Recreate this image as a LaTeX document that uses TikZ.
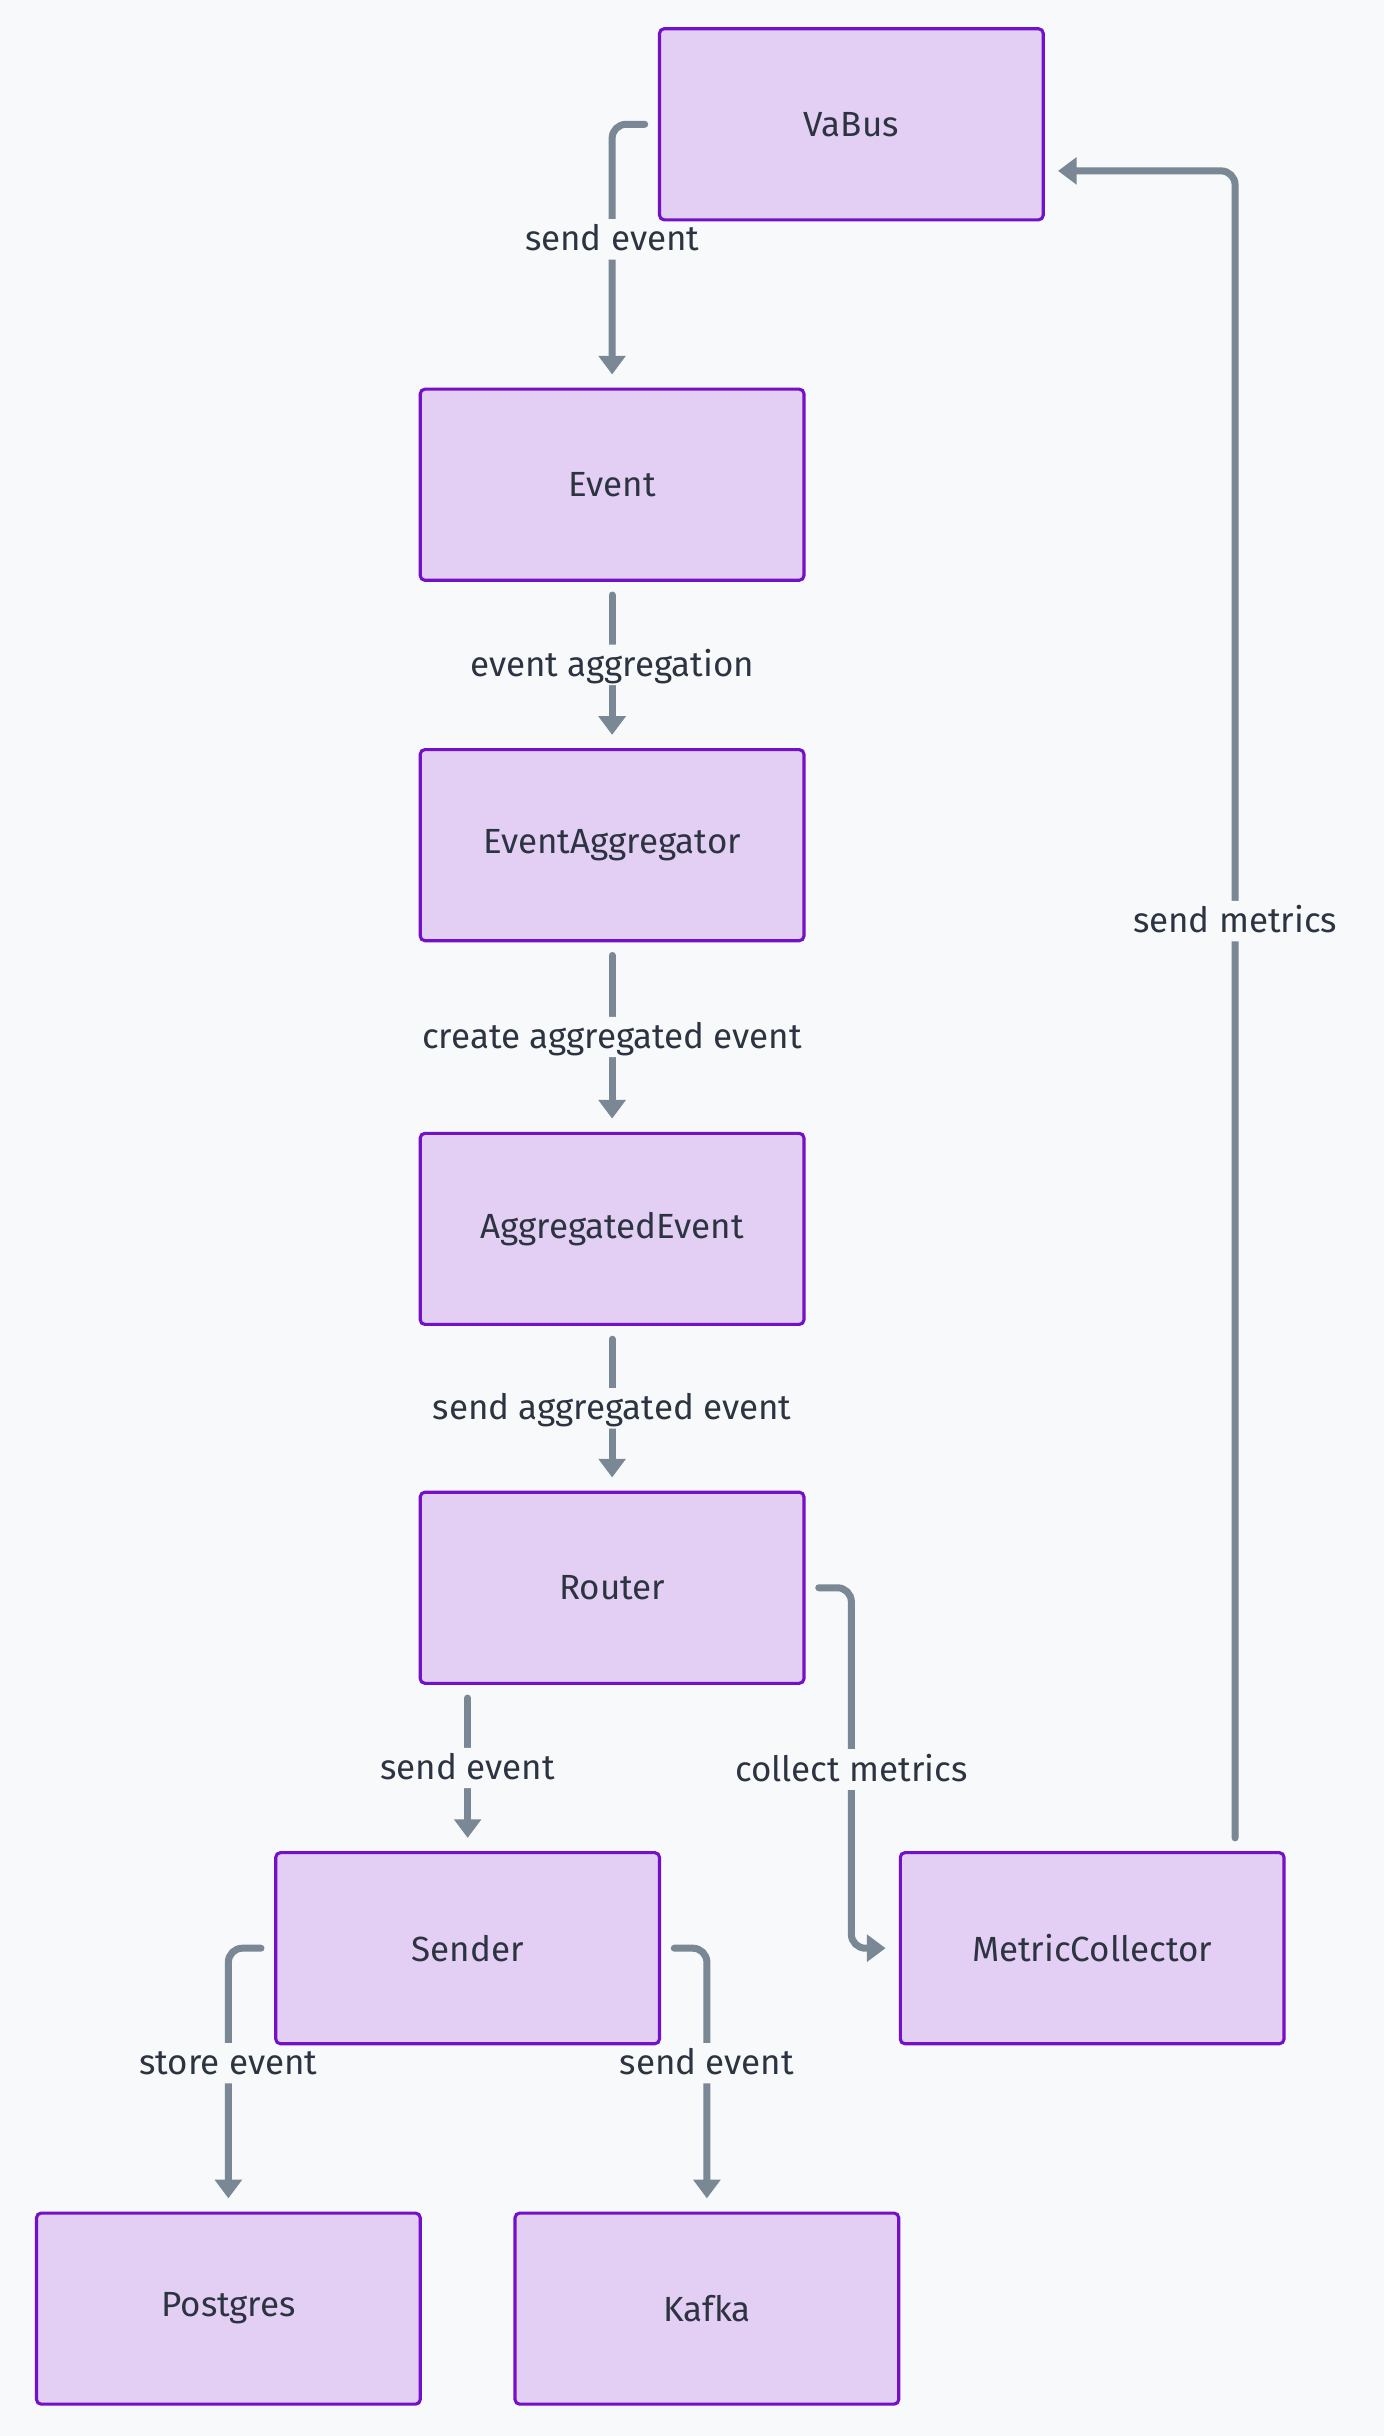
\documentclass[tikz,border=0pt]{standalone}
\usepackage{fontspec}
\setmainfont{Fira Sans}
\usepackage{tikz}
\usetikzlibrary{arrows.meta}
\definecolor{bgc}{HTML}{F8F9FA}
\definecolor{boxfill}{HTML}{E4CFF4}
\definecolor{boxline}{HTML}{7410C8}
\definecolor{linkc}{HTML}{7A8794}
\definecolor{txtc}{HTML}{2C3442}
\newcommand{\gapsize}{9.5pt}
\pgfdeclarelayer{links}
\pgfsetlayers{links,main}
\tikzset{
  box/.style={draw=boxline, fill=boxfill, line width=2pt, rounded corners=3pt,
    minimum width=247pt, minimum height=123pt, outer sep=\gapsize, text=txtc},
  lbl/.style={fill=bgc, text=txtc, inner xsep=5pt, inner ysep=2.5pt,
    text height=18pt, text depth=3pt},
  flow/.style={draw=linkc, line width=4.5pt, line cap=round, rounded corners=9pt,
    -{Triangle[width=17pt,length=12pt]}}
}

\begin{document}
\begin{tikzpicture}[x=1pt, y=-1pt, font=\fontsize{22.5pt}{27pt}\selectfont]
      \useasboundingbox (0,0) rectangle (891,1568);
      % boxes
      \foreach \n/\x/\y/\t in {vabus/548/80/VaBus, event/394/312/Event,
        aggr/394/544/EventAggregator, aggev/394/791/AggregatedEvent,
        router/394/1022/Router, sender/301/1254/Sender,
        metric/703/1254/MetricCollector, pg/147/1486/Postgres, kafka/455/1486/Kafka}
      {
        \node (\n) at (\x,\y) [box] {\t};
      }
      % links, under the boxes
      \begin{pgfonlayer}{links}
      \fill[bgc] (0,0) rectangle (891,1568);
      \draw[flow] (vabus.west) -| node[lbl, pos=0.73] (vabus-l) {send event} (event.north);
      \foreach \a/\b/\t in {event/aggr/event aggregation, aggr/aggev/create aggregated event,
        aggev/router/send aggregated event}
      {
        \draw[flow] (\a.south) -- node[lbl] (\a-l) {\t} (\b.north);
      }
      \draw[flow] (sender.north |- router.south) -- node[lbl] (router-l) {send event} (sender.north);
      \coordinate (cm) at (548,1139);
      \draw[flow] (router.east) -| (cm) |- (metric.west);
      \node (cm-l) at (cm) [lbl] {collect metrics};
      \draw[flow] ([xshift=92pt]metric.north) |- node[lbl, pos=0.275] (metric-l) {send metrics} ([yshift=-30pt]vabus.east);
      \draw[flow] (sender.west) -| node[lbl, pos=0.73] (pg-l) {store event} (pg.north);
      \draw[flow] (sender.east) -| node[lbl, pos=0.73] (kafka-l) {send event} (kafka.north);
      \end{pgfonlayer}
    \end{tikzpicture}
\end{document}
